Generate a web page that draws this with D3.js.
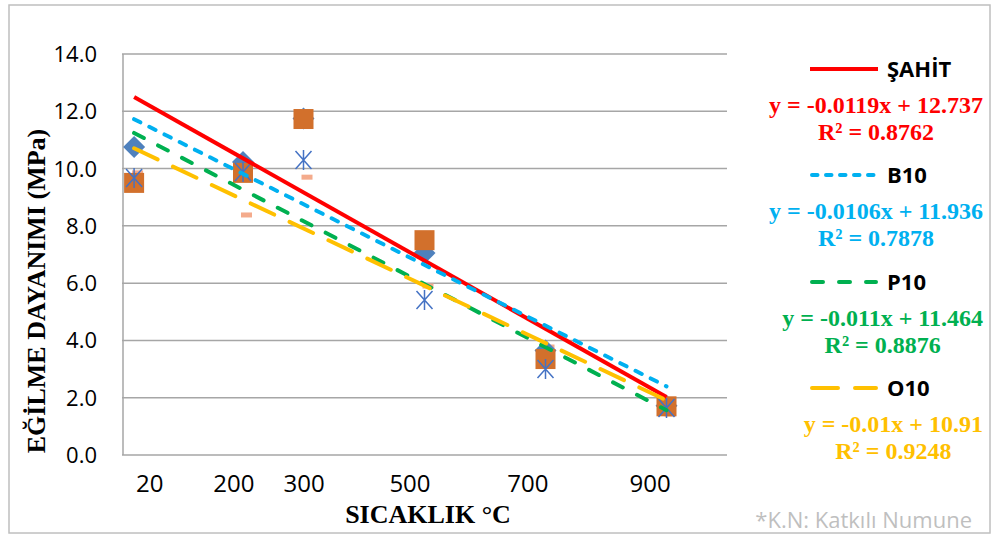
<!DOCTYPE html>
<html>
<head>
<meta charset="utf-8">
<script src="https://cdn.jsdelivr.net/npm/d3@7"></script>
<style>
  body { margin: 0; background: #fff; }
  svg { display: block; }
</style>
</head>
<body>
<div class="canva"></div>
<script>
// data
const temps = [20, 200, 300, 500, 700, 900];
const sahit = [10.75, 10.23, 11.75, 7.05, 3.65, 1.72];
const b10 = [9.5, 9.85, 11.73, 7.5, 3.35, 1.7];
const p10 = [9.67, 9.88, 10.3, 5.41, 3.0, 1.64];
const o10 = [9.85, 8.38, 9.7, 5.9, 3.77, 1.43];

const seriesNames = ["ŞAHİT", "B10", "P10", "O10"];
const slopes = [-0.0119, -0.0106, -0.011, -0.01];
const intercepts = [12.737, 11.936, 11.464, 10.91];
const r2 = [0.8762, 0.7878, 0.8876, 0.9248];

const yTicks = [0, 2, 4, 6, 8, 10, 12, 14];
const xTickLabels = ["20", "200", "300", "500", "700", "900"];
// where the text boxes of the x labels sit (in °C units)
const xLabelAt = [46, 185, 301, 476, 671, 873];

const lineColors = ["#FF0000", "#00B0F0", "#00B050", "#FFC000"];
const lineDash = [null, "5.5,8.5", "11,16", "26,17"];
const plotDash = [null, "7,10", "11,16", "26,17"];

const svg = d3.select(".canva").append("svg")
  .attr("width", 993)
  .attr("height", 535);

// outer chart border
svg.append("rect")
  .attr("x", 9).attr("y", 5)
  .attr("width", 981).attr("height", 528)
  .attr("fill", "none")
  .attr("stroke", "#bfbfbf")
  .attr("stroke-width", 1.5);

const x = d3.scaleLinear().domain([0, 1000]).range([122, 727]);
const y = d3.scaleLinear().domain([0, 14]).range([455, 54]);

// gridlines
svg.append("g").selectAll("line")
  .data(yTicks)
  .enter()
  .append("line")
    .attr("x1", x(0)).attr("x2", x(1000))
    .attr("y1", d => y(d)).attr("y2", d => y(d))
    .attr("stroke", "#a6a6a6")
    .attr("stroke-width", 1.5);

// left axis line
svg.append("line")
  .attr("x1", x(0) + 1).attr("x2", x(0) + 1)
  .attr("y1", y(14)).attr("y2", y(0))
  .attr("stroke", "#a6a6a6")
  .attr("stroke-width", 1.5);

// y tick labels
svg.append("g").selectAll("text")
  .data(yTicks)
  .enter()
  .append("text")
    .attr("x", 97)
    .attr("y", d => y(d) + 8)
    .attr("text-anchor", "end")
    .style("font-family", "'Open Sans', sans-serif")
    .style("font-size", "22px")
    .attr("fill", "#000")
    .text(d => d3.format(".1f")(d));

// x tick labels
svg.append("g").selectAll("text")
  .data(xTickLabels)
  .enter()
  .append("text")
    .attr("x", (d, i) => x(xLabelAt[i]))
    .attr("y", 492)
    .attr("text-anchor", "middle")
    .style("font-family", "'Open Sans', sans-serif")
    .style("font-size", "24px")
    .attr("fill", "#000")
    .text(d => d);

// axis titles
svg.append("text")
  .attr("x", 428).attr("y", 523)
  .attr("text-anchor", "middle")
  .style("font-family", "'Liberation Serif', serif")
  .style("font-weight", "bold")
  .style("font-size", "26px")
  .text("SICAKLIK °C");

svg.append("text")
  .attr("transform", "translate(45,291) rotate(-90)")
  .attr("text-anchor", "middle")
  .style("font-family", "'Liberation Serif', serif")
  .style("font-weight", "bold")
  .style("font-size", "26px")
  .text("EĞİLME DAYANIMI (MPa)");

// markers: O10 dashes, ŞAHİT diamonds, B10 squares, P10 stars
const pts = (vals) => vals.map((v, i) => ({t: temps[i], v: v}));

svg.append("g").selectAll("rect")
  .data(pts(o10))
  .enter()
  .append("rect")
    .attr("x", d => x(d.t) - 2)
    .attr("y", d => y(d.v) - 2.5)
    .attr("width", 11).attr("height", 5)
    .attr("fill", "#F4AB8C");

svg.append("g").selectAll("path")
  .data(pts(sahit))
  .enter()
  .append("path")
    .attr("transform", d => `translate(${x(d.t)},${y(d.v)})`)
    .attr("d", "M0,-11L11,0L0,11L-11,0Z")
    .attr("fill", "#4F81BD");

svg.append("g").selectAll("rect")
  .data(pts(b10))
  .enter()
  .append("rect")
    .attr("x", d => x(d.t) - 10)
    .attr("y", d => y(d.v) - 10)
    .attr("width", 20).attr("height", 20)
    .attr("fill", "#D2702C");

svg.append("g").selectAll("path")
  .data(pts(p10))
  .enter()
  .append("path")
    .attr("transform", d => `translate(${x(d.t)},${y(d.v)})`)
    .attr("d", "M-8,-9L8,9M-8,9L8,-9M0,-10L0,10")
    .attr("fill", "none")
    .attr("stroke", "#4472C4")
    .attr("stroke-width", 1.5);

// trendlines
const trendX = [20, 900];
seriesNames.forEach((name, k) => {
  svg.append("line")
    .attr("x1", x(trendX[0])).attr("x2", x(trendX[1]))
    .attr("y1", y(slopes[k] * trendX[0] + intercepts[k]))
    .attr("y2", y(slopes[k] * trendX[1] + intercepts[k]))
    .attr("stroke", lineColors[k])
    .attr("stroke-width", 4)
    .attr("stroke-linecap", k ? "round" : "butt")
    .attr("stroke-dasharray", plotDash[k]);
});

// legend with equations
const legendY = [69, 175, 282, 388];
const legend = svg.append("g");

seriesNames.forEach((name, k) => {
  const ly = legendY[k];
  legend.append("line")
    .attr("x1", k ? 812 : 810).attr("x2", k ? 876 : 878)
    .attr("y1", ly).attr("y2", ly)
    .attr("stroke", lineColors[k])
    .attr("stroke-width", 4)
    .attr("stroke-linecap", k ? "round" : "butt")
    .attr("stroke-dasharray", lineDash[k]);

  legend.append("text")
    .attr("x", 887).attr("y", ly + 8)
    .style("font-family", "'Open Sans', sans-serif")
    .style("font-weight", "bold")
    .style("font-size", "22px")
    .attr("fill", "#000")
    .text(name);

  const eq = legend.append("text")
    .attr("x", 983).attr("y", ly + 44)
    .attr("text-anchor", "end")
    .style("font-family", "'Liberation Serif', serif")
    .style("font-weight", "bold")
    .style("font-size", "24px")
    .attr("fill", lineColors[k])
    .text(`y = ${slopes[k]}x + ${intercepts[k]}`);

  const w = eq.node().getComputedTextLength();
  legend.append("text")
    .attr("x", 983 - w / 2).attr("y", ly + 71)
    .attr("text-anchor", "middle")
    .style("font-family", "'Liberation Serif', serif")
    .style("font-weight", "bold")
    .style("font-size", "24px")
    .attr("fill", lineColors[k])
    .text(`R² = ${r2[k]}`);
});

// footnote
svg.append("text")
  .attr("x", 972).attr("y", 528)
  .attr("text-anchor", "end")
  .style("font-family", "'Open Sans', sans-serif")
  .style("font-size", "22px")
  .attr("fill", "#bfbfbf")
  .text("*K.N: Katkılı Numune");
</script>
</body>
</html>
